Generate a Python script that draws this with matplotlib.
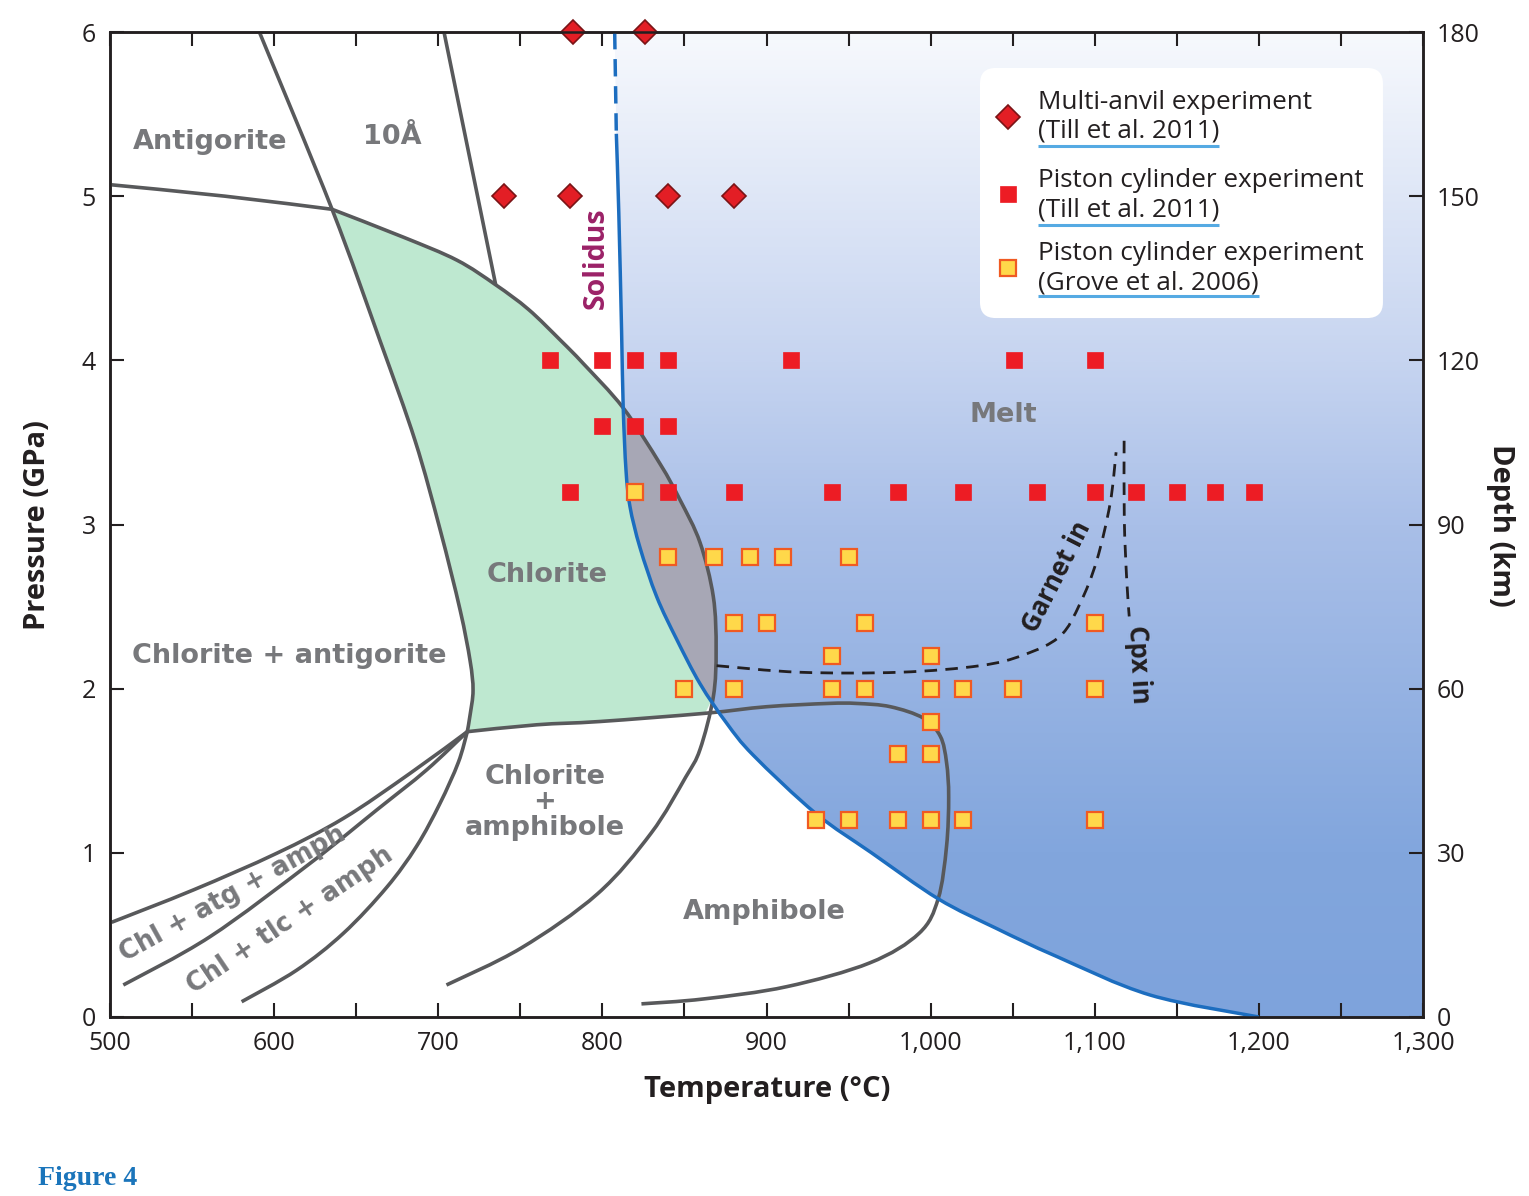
import numpy as np
import matplotlib
matplotlib.use("Agg")
import matplotlib.pyplot as plt
from matplotlib.patches import PathPatch, FancyBboxPatch
from matplotlib.path import Path
from matplotlib.colors import LinearSegmentedColormap

plt.rcParams['font.family'] = ['Open Sans', 'DejaVu Sans']

# ---------------- experiments (T in degC, P in GPa) ----------------
ma_T = [740, 780, 840, 880, 782, 826]
ma_P = [5.0, 5.0, 5.0, 5.0, 6.0, 6.0]

till_T = [768, 800, 820, 840, 915, 1051, 1100,
          800, 820, 840,
          780, 840, 880, 940, 980, 1020, 1065, 1100, 1125, 1150, 1173, 1197]
till_P = [4.0, 4.0, 4.0, 4.0, 4.0, 4.0, 4.0,
          3.6, 3.6, 3.6,
          3.2, 3.2, 3.2, 3.2, 3.2, 3.2, 3.2, 3.2, 3.2, 3.2, 3.2, 3.2]

grove_T = [820,
           840, 868, 890, 910, 950,
           880, 900, 960, 1100,
           940, 1000,
           850, 880, 940, 960, 1000, 1020, 1050, 1100,
           1000,
           980, 1000,
           930, 950, 980, 1000, 1020, 1100]
grove_P = [3.2,
           2.8, 2.8, 2.8, 2.8, 2.8,
           2.4, 2.4, 2.4, 2.4,
           2.2, 2.2,
           2.0, 2.0, 2.0, 2.0, 2.0, 2.0, 2.0, 2.0,
           1.8,
           1.6, 1.6,
           1.2, 1.2, 1.2, 1.2, 1.2, 1.2]

# ---------------- phase boundaries ----------------
sol_dash_T = [807.5, 808.5]
sol_dash_P = [6.0, 5.38]
sol_T = [808.5, 810, 811.7, 812.7, 814.4, 816.8, 822.9, 833.1, 845.3, 859.5,
         875.7, 892, 930, 964, 1004.6, 1040, 1076.5, 1133.7, 1200]
sol_P = [5.38, 4.9, 4.18, 3.71, 3.33, 3.11, 2.86, 2.56, 2.30, 2.03,
         1.79, 1.594, 1.24, 1.0, 0.72, 0.54, 0.37, 0.134, 0.0]

atg_left_T = [500, 570, 635.3]
atg_left_P = [5.07, 5.0, 4.92]

atg_out_T = [591, 635.3, 664.5, 685.9, 701.1, 713.3, 719.4, 721.2, 719.4, 717.7]
atg_out_P = [6.0, 4.92, 4.12, 3.51, 2.97, 2.48, 2.17, 1.99, 1.84, 1.738]

tenA_T = [703.5, 735]
tenA_P = [6.0, 4.46]

chl_out_T = [635.3, 678.8, 711.4, 735, 755, 774.7, 788.4, 812.7, 835.1, 847.3,
             859.5, 867.6, 869.3, 867.6, 859.5, 850.7, 829.7, 797, 750.5, 705]
chl_out_P = [4.92, 4.75, 4.61, 4.46, 4.31, 4.12, 3.98, 3.71, 3.37, 3.15,
             2.89, 2.56, 2.24, 1.95, 1.63, 1.46, 1.12, 0.75, 0.42, 0.195]

chl_low_T = [717.7, 760, 798.6, 862.6]
chl_low_P = [1.738, 1.78, 1.80, 1.85]

amph_out_T = [862.6, 900, 937.5, 955, 975.5, 995.7, 1005.9, 1009.7, 1011, 1009.7,
              1004.6, 993, 963, 912.4, 861.7, 823.8]
amph_out_P = [1.85, 1.89, 1.91, 1.91, 1.89, 1.82, 1.71, 1.55, 1.34, 1.04,
              0.72, 0.51, 0.33, 0.185, 0.11, 0.08]

atg_amph_T = [717.7, 682.8, 642.2, 601.5, 550.8, 501]
atg_amph_P = [1.738, 1.484, 1.21, 0.997, 0.774, 0.577]

tlc_amph_T = [717.7, 692.9, 662.5, 621.9, 560.9, 508.1]
tlc_amph_P = [1.738, 1.505, 1.261, 0.936, 0.489, 0.195]

chl_amph_T = [717.7, 712.2, 701, 686.8, 668.6, 642.2, 613.7, 580.2]
chl_amph_P = [1.738, 1.55, 1.30, 1.04, 0.79, 0.51, 0.285, 0.093]

garnet_T = [869.6, 920.4, 981.3, 1030.1, 1056.5, 1078.9, 1091.1, 1101.2, 1109.4, 1113]
garnet_P = [2.14, 2.10, 2.10, 2.14, 2.205, 2.32, 2.52, 2.78, 3.13, 3.44]

cpx_T = [1117.9, 1118, 1119.5, 1121]
cpx_P = [3.51, 3.03, 2.66, 2.44]

# ---------------- axes labels ----------------
x_ticks = [500, 600, 700, 800, 900, 1000, 1100, 1200, 1300]
x_tick_labels = ['500', '600', '700', '800', '900', '1,000', '1,100', '1,200', '1,300']
p_ticks = [0, 1, 2, 3, 4, 5, 6]
depth_ticks = [0, 30, 60, 90, 120, 150, 180]

legend_lines = [('Multi-anvil experiment', '(Till et al. 2011)'),
                ('Piston cylinder experiment', '(Till et al. 2011)'),
                ('Piston cylinder experiment', '(Grove et al. 2006)')]

DARK = '#231f20'
LINE = '#58595b'
REGION = '#77787b'
BLUE = '#1c6dbf'


def bezier_segments(T, P):
    # smooth curve through the read points (Catmull-Rom as cubic Beziers)
    pts = np.column_stack([T, P]).astype(float)
    n = len(pts)
    verts, codes = [], []
    for i in range(n - 1):
        p0 = pts[max(i - 1, 0)]
        p1 = pts[i]
        p2 = pts[i + 1]
        p3 = pts[min(i + 2, n - 1)]
        verts += [p1 + (p2 - p0) / 6, p2 - (p3 - p1) / 6, p2]
        codes += [Path.CURVE4] * 3
    return pts[0], verts, codes


def curve_path(T, P):
    start, v, c = bezier_segments(T, P)
    return Path([start] + v, [Path.MOVETO] + c)


def closed_path(pieces, extra=()):
    verts, codes = [], []
    for k, (T, P) in enumerate(pieces):
        start, v, c = bezier_segments(T, P)
        verts.append(start)
        codes.append(Path.MOVETO if k == 0 else Path.LINETO)
        verts += v
        codes += c
    for pt in extra:
        verts.append(pt)
        codes.append(Path.LINETO)
    verts.append(verts[0])
    codes.append(Path.CLOSEPOLY)
    return Path(verts, codes)


def draw_curve(ax, T, P, **kw):
    ax.add_patch(PathPatch(curve_path(T, P), fill=False, capstyle='butt',
                           joinstyle='round', **kw))


fig = plt.figure(figsize=(15.29, 11.96), dpi=100)
ax = fig.add_axes([110 / 1529, 1 - 1017 / 1196, 1313 / 1529, 985 / 1196])

# melt field: gradient clipped to the right of the solidus
melt_path = closed_path([(sol_dash_T, sol_dash_P), (sol_T, sol_P)],
                        extra=[(1300, 0), (1300, 6)])
melt_patch = PathPatch(melt_path, facecolor='none', edgecolor='none')
ax.add_patch(melt_patch)
cmap = LinearSegmentedColormap.from_list(
    'melt', [(0.0, '#7ea3dc'), (1 / 6, '#82a6dd'), (0.5, '#a9bfe8'),
             (2 / 3, '#c6d4f0'), (1.0, '#f7f9fd')])
grad = np.linspace(0, 1, 512).reshape(-1, 1)
im = ax.imshow(grad, extent=[500, 1300, 0, 6], origin='lower', cmap=cmap,
               aspect='auto', zorder=1, interpolation='bilinear')
im.set_clip_path(melt_patch)

# chlorite field (green) and chlorite + melt lens (grey)
chl_path = closed_path([(atg_out_T[1:], atg_out_P[1:]),
                        (chl_low_T, chl_low_P),
                        (chl_out_T[13::-1], chl_out_P[13::-1])])
ax.add_patch(PathPatch(chl_path, facecolor='#bee8d0', edgecolor='none', zorder=2))
lens = PathPatch(chl_path, facecolor='#a7a7b5', edgecolor='none', zorder=3)
ax.add_patch(lens)
lens.set_clip_path(melt_patch)

# boundaries
line_kw = dict(edgecolor=LINE, lw=2.6, zorder=4)
draw_curve(ax, atg_left_T, atg_left_P, **line_kw)
draw_curve(ax, atg_out_T, atg_out_P, **line_kw)
draw_curve(ax, tenA_T, tenA_P, **line_kw)
draw_curve(ax, chl_out_T, chl_out_P, **line_kw)
draw_curve(ax, chl_low_T + amph_out_T[1:], chl_low_P + amph_out_P[1:], **line_kw)
draw_curve(ax, atg_amph_T, atg_amph_P, **line_kw)
draw_curve(ax, tlc_amph_T, tlc_amph_P, **line_kw)
draw_curve(ax, chl_amph_T, chl_amph_P, **line_kw)

draw_curve(ax, sol_T, sol_P, edgecolor=BLUE, lw=2.5, zorder=5)
ax.plot(sol_dash_T, sol_dash_P, color=BLUE, lw=2.5, dashes=(5, 2.8), zorder=5)
draw_curve(ax, garnet_T, garnet_P, edgecolor=DARK, lw=2.0, linestyle=(0, (4.5, 3)), zorder=5)
draw_curve(ax, cpx_T, cpx_P, edgecolor=DARK, lw=2.0, linestyle=(0, (4.5, 3)), zorder=5)

# experiments
ax.plot(till_T, till_P, 's', ms=11.5, mfc='#ed1c24', mec='#ed1c24', mew=0.5,
        zorder=7, clip_on=False)
ax.plot(grove_T, grove_P, 's', ms=11, mfc='#ffd84a', mec='#f05a22', mew=1.6,
        zorder=8, clip_on=False)
ax.plot(ma_T, ma_P, 'D', ms=12, mfc='#e31e25', mec='#7a1416', mew=1.2,
        zorder=8, clip_on=False)

# region labels
region_kw = dict(family='DejaVu Sans', fontweight='bold', color=REGION,
                 fontsize=19.5, ha='center', va='center', zorder=9)
ax.text(561, 5.33, 'Antigorite', **region_kw)
ax.text(672, 5.36, '10Å', **region_kw)
ax.text(766.6, 2.69, 'Chlorite', **region_kw)
ax.text(609.5, 2.2, 'Chlorite + antigorite', **region_kw)
ax.text(765, 1.46, 'Chlorite', **region_kw)
ax.text(765, 1.31, '+', **region_kw)
ax.text(765, 1.15, 'amphibole', **region_kw)
ax.text(898.4, 0.64, 'Amphibole', **region_kw)
ax.text(1044, 3.67, 'Melt', **region_kw)
rot_kw = dict(region_kw, fontsize=18.5, rotation_mode='anchor')
ax.text(575.1, 0.75, 'Chl + atg + amph', rotation=29, **rot_kw)
ax.text(609.7, 0.59, 'Chl + tlc + amph', rotation=34, **rot_kw)

ax.text(796, 4.62, 'Solidus', rotation=90, ha='center', va='center',
        fontsize=20.5, fontweight='bold', color='#9b2167', zorder=9)
ax.text(1077, 2.68, 'Garnet in', rotation=63, rotation_mode='anchor',
        ha='center', va='center', fontsize=18.5, fontweight='bold', color=DARK, zorder=9)
ax.text(1126.5, 2.15, 'Cpx in', rotation=-87, rotation_mode='anchor',
        ha='center', va='center', fontsize=18.5, fontweight='bold', color=DARK, zorder=9)

# legend box
box = FancyBboxPatch((0.6626, 0.7096), 0.3069, 0.2539, transform=ax.transAxes,
                     boxstyle='round,pad=0,rounding_size=0.012',
                     mutation_aspect=1313 / 985, facecolor='white',
                     edgecolor='none', zorder=6)
ax.add_patch(box)
mk_y = [0.9137, 0.8355, 0.7604]
ax.plot(0.684, mk_y[0], 'D', ms=12, mfc='#e31e25', mec='#7a1416', mew=1.2,
        transform=ax.transAxes, zorder=8)
ax.plot(0.684, mk_y[1], 's', ms=11.5, mfc='#ed1c24', mec='#ed1c24', mew=0.5,
        transform=ax.transAxes, zorder=8)
ax.plot(0.684, mk_y[2], 's', ms=11, mfc='#ffd84a', mec='#f05a22', mew=1.6,
        transform=ax.transAxes, zorder=8)
line1_y = [0.9289, 0.8497, 0.7756]
line2_y = [0.8995, 0.8193, 0.7452]
under_y = [0.8843, 0.8041, 0.7320]
cites = []
for (a, b), y1, y2 in zip(legend_lines, line1_y, line2_y):
    ax.text(0.7068, y1, a, transform=ax.transAxes, fontsize=18.8, color=DARK,
            ha='left', va='center', zorder=9)
    cites.append(ax.text(0.7068, y2, b, transform=ax.transAxes, fontsize=18.8,
                         color=DARK, ha='left', va='center', zorder=9))

# axes
ax.set_xlim(500, 1300)
ax.set_ylim(0, 6)
ax.set_xticks(x_ticks)
ax.set_xticklabels(x_tick_labels)
ax.set_xticks([550, 650, 750, 850, 950, 1050, 1150, 1250], minor=True)
ax.set_yticks(p_ticks)
ax.tick_params(axis='x', which='both', direction='in', top=True, length=10,
               width=1.5, color=DARK, labelsize=18, pad=10, labelcolor=DARK)
ax.tick_params(axis='y', direction='in', length=10, width=1.5, color=DARK,
               labelsize=18, pad=10, labelcolor=DARK)
for s in ax.spines.values():
    s.set_linewidth(1.8)
    s.set_color(DARK)

ax2 = ax.twinx()
ax2.set_ylim(0, 180)
ax2.set_yticks(depth_ticks)
ax2.tick_params(axis='y', direction='in', length=10, width=1.5, color=DARK,
                labelsize=18, pad=10, labelcolor=DARK)
for s in ax2.spines.values():
    s.set_linewidth(1.8)
    s.set_color(DARK)

fig.text(767 / 1529, 1 - 1090 / 1196, 'Temperature (°C)', ha='center', va='center',
         fontsize=21, fontweight='bold', color=DARK)
fig.text(38 / 1529, 1 - 525 / 1196, 'Pressure (GPa)', ha='center', va='center',
         rotation=90, fontsize=21, fontweight='bold', color=DARK)
fig.text(1501 / 1529, 1 - 525 / 1196, 'Depth (km)', ha='center', va='center',
         rotation=-90, fontsize=21, fontweight='bold', color=DARK)
fig.text(38 / 1529, 1 - 1185 / 1196, 'Figure 4', ha='left', va='baseline',
         family='Liberation Serif', fontweight='bold', fontsize=20, color='#1b75bb')

# underline the citations
fig.canvas.draw()
rend = fig.canvas.get_renderer()
for t, yu in zip(cites, under_y):
    bb = t.get_window_extent(rend).transformed(ax.transAxes.inverted())
    ax.plot([bb.x0, bb.x1], [yu, yu], color='#55aae3', lw=2.2,
            transform=ax.transAxes, zorder=9, solid_capstyle='butt')

fig.savefig('out.png', dpi=100)
